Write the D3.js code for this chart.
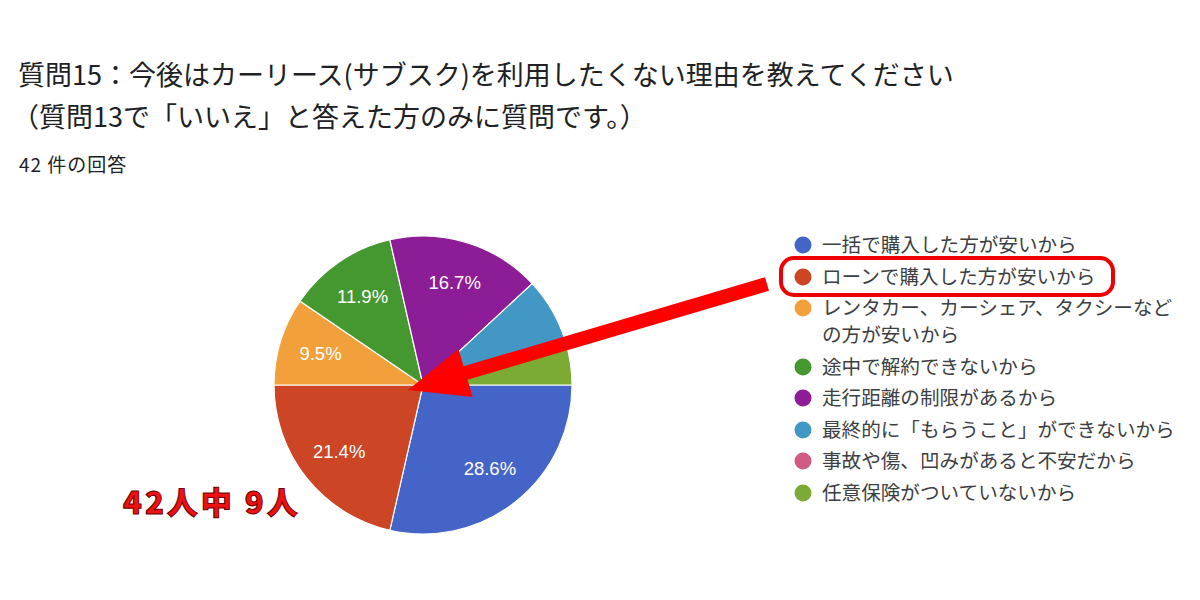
<!DOCTYPE html>
<html>
<head>
<meta charset="utf-8">
<script src="https://cdn.jsdelivr.net/npm/d3@7"></script>
<style>
  body { margin: 0; background: #fff; }
  svg { display: block; }
</style>
</head>
<body>
<div class="pie-chart"></div>
<script>
const titleLines = [
  '質問15：今後はカーリース(サブスク)を利用したくない理由を教えてください',
  '（質問13で「いいえ」と答えた方のみに質問です。）'
];
const responseLabel = '42 件の回答';
const categories = [
  '一括で購入した方が安いから',
  'ローンで購入した方が安いから',
  'レンタカー、カーシェア、タクシーなどの方が安いから',
  '途中で解約できないから',
  '走行距離の制限があるから',
  '最終的に「もらうこと」ができないから',
  '事故や傷、凹みがあると不安だから',
  '任意保険がついていないから'
];
const counts = [12, 9, 4, 5, 7, 3, 0, 2];
const colors = ['#4464c7', '#cc4525', '#f2a03c', '#45972f', '#8d1c97', '#4297c5', '#d05b85', '#7cab35'];
const annotation = '42人中 9人';

const width = 1200;
const height = 600;
const font = '"Noto Sans CJK JP", "Noto Sans", sans-serif';

const svg = d3
  .select('.pie-chart')
  .append('svg')
  .attr('width', width)
  .attr('height', height);

// Title
svg
  .selectAll('.title')
  .data(titleLines)
  .enter()
  .append('text')
  .attr('x', (d, i) => (i === 0 ? 18 : 12))
  .attr('y', (d, i) => 85 + i * 42)
  .attr('font-family', font)
  .attr('font-size', 27)
  .attr('fill', '#202124')
  .text(d => d);

svg
  .append('text')
  .attr('x', 19)
  .attr('y', 172)
  .attr('font-family', font)
  .attr('font-size', 19)
  .attr('letter-spacing', 1)
  .attr('fill', '#202124')
  .text(responseLabel);

// Pie
const cx = 423;
const cy = 385;
const radius = 149;
const total = d3.sum(counts);

const pie = d3
  .pie()
  .sort(null)
  .value(d => d)
  .startAngle(Math.PI / 2)
  .endAngle(Math.PI / 2 + 2 * Math.PI);

const arcs = pie(counts);
const arc = d3.arc().innerRadius(0).outerRadius(radius);
const labelArc = d3.arc().innerRadius(radius * 0.72).outerRadius(radius * 0.72);

const g = svg.append('g').attr('transform', 'translate(' + cx + ',' + cy + ')');

g.selectAll('.slice')
  .data(arcs)
  .enter()
  .append('path')
  .attr('fill', (d, i) => colors[i])
  .attr('stroke', '#fff')
  .attr('stroke-width', 1.2)
  .attr('d', arc);

g.selectAll('.slice-label')
  .data(arcs.filter(d => d.value / total > 0.08))
  .enter()
  .append('text')
  .attr('transform', d => 'translate(' + labelArc.centroid(d) + ')')
  .attr('text-anchor', 'middle')
  .attr('dy', '0.35em')
  .attr('font-family', '"Liberation Sans", Arial, sans-serif')
  .attr('font-size', 18.5)
  .attr('fill', '#fff')
  .text(d => (d.value / total * 100).toFixed(1) + '%');

// Legend
const rowY = [245, 277, 308, 367, 398, 430, 461, 493];
const legend = svg
  .selectAll('.legend-item')
  .data(categories)
  .enter()
  .append('g')
  .attr('transform', (d, i) => 'translate(803,' + rowY[i] + ')');

legend
  .append('circle')
  .attr('r', 8.5)
  .attr('fill', (d, i) => colors[i]);

legend
  .append('text')
  .attr('x', 19)
  .attr('dy', '0.36em')
  .attr('font-family', font)
  .attr('font-size', 19.6)
  .attr('fill', '#3c4043')
  .each(function (d) {
    const t = d3.select(this);
    if (d.length > 20) {
      t.append('tspan').attr('x', 19).text(d.slice(0, 18));
      t.append('tspan').attr('x', 19).attr('dy', 27).text(d.slice(18));
    } else {
      t.text(d);
    }
  });

// Highlight box around the 2nd legend item
svg
  .append('rect')
  .attr('x', 781)
  .attr('y', rowY[1] - 19)
  .attr('width', 332)
  .attr('height', 37)
  .attr('rx', 13)
  .attr('fill', 'none')
  .attr('stroke', '#ee0000')
  .attr('stroke-width', 4);

// Arrow from the legend box to the pie centre
const tail = [767, 284];
const tip = [cx - 15, cy + 5];
const ang = Math.atan2(tip[1] - tail[1], tip[0] - tail[0]);
const headLen = 60;
const headHalf = 25;
const shaftHalf = 7;
const ux = Math.cos(ang);
const uy = Math.sin(ang);
const nx = -uy;
const ny = ux;
const base = [tip[0] - ux * headLen, tip[1] - uy * headLen];
const arrowPts = [
  [tail[0] + nx * shaftHalf, tail[1] + ny * shaftHalf],
  [base[0] + nx * shaftHalf, base[1] + ny * shaftHalf],
  [base[0] + nx * headHalf, base[1] + ny * headHalf],
  tip,
  [base[0] - nx * headHalf, base[1] - ny * headHalf],
  [base[0] - nx * shaftHalf, base[1] - ny * shaftHalf],
  [tail[0] - nx * shaftHalf, tail[1] - ny * shaftHalf]
];
svg
  .append('path')
  .attr('d', d3.line()(arrowPts) + 'Z')
  .attr('fill', '#ff0000');

// Annotation
svg
  .append('text')
  .attr('x', 123)
  .attr('y', 514)
  .attr('font-family', font)
  .attr('font-weight', 900)
  .attr('font-size', 31)
  .attr('letter-spacing', 3)
  .attr('fill', '#ee1111')
  .attr('stroke', '#6a0000')
  .attr('stroke-width', 1)
  .text(annotation);
</script>
</body>
</html>
